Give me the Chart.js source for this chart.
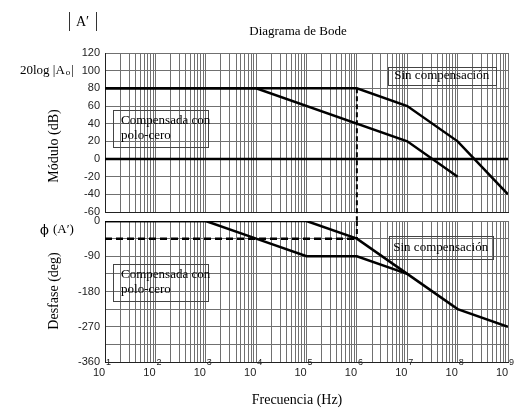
<!DOCTYPE html>
<html>
<head>
<meta charset="utf-8">
<script src="https://cdn.jsdelivr.net/npm/chart.js@4.4.1/dist/chart.umd.min.js"></script>
<style>
  html, body { margin: 0; padding: 0; background: #fff; }
  #wrap { position: relative; width: 516px; height: 412px; }
  canvas { position: absolute; left: 0; top: 0; }
</style>
</head>
<body>
<div id="wrap">
  <canvas id="magChart" width="516" height="412"></canvas>
  <canvas id="phaseChart" width="516" height="412"></canvas>
</div>
<script>
// ===== DATA =====
const decadeExps = [1, 2, 3, 4, 5, 6, 7, 8, 9];

// Modulo (dB)
const magFreqSin = [1e1, 1e6, 1e7, 1e8, 1e9];
const magSin = [80, 80, 60, 20, -40];
const magFreqComp = [1e1, 1e4, 1e7, 1e8];
const magComp = [80, 80, 20, -20];
const zeroFreq = [1e1, 1e9];
const zeroDb = [0, 0];
const cutFreq = [1e6, 1e6];
const cutMag = [80, -70];

// Desfase (deg)
const phaseFreqSin = [1e1, 1e5, 1e6, 1e7, 1e8, 1e9];
const phaseSin = [0, 0, -45, -135, -225, -270];
const phaseFreqComp = [1e1, 1e3, 1e4, 1e5, 1e6, 1e7];
const phaseComp = [0, 0, -45, -90, -90, -135];
const marginFreq = [1e1, 1e6];
const marginPhase = [-45, -45];
const cutPhase = [0, -45];

const magTicks = [-60, -40, -20, 0, 20, 40, 60, 80, 100, 120];
const phaseLabels = [0, -90, -180, -270, -360];

// ===== HELPERS =====
const serif = '"Liberation Serif", "Times New Roman", serif';
const sans = '"Liberation Sans", Arial, sans-serif';
const gridColor = '#707070';

function pts(xs, ys) {
    return xs.map((x, i) => ({ x: x, y: ys[i] }));
}

// grid lines at 1..9 x 10^n
const gridFreqs = [];
for (let e = 1; e < 9; e++) {
    for (let k = 1; k < 10; k++) gridFreqs.push(k * Math.pow(10, e));
}
gridFreqs.push(1e9);

function xAxis() {
    return {
        type: 'logarithmic',
        min: 10,
        max: 1e9,
        afterBuildTicks: s => { s.ticks = gridFreqs.map(v => ({ value: v })); },
        ticks: { display: false },
        grid: { color: gridColor, lineWidth: 1, drawTicks: false },
        border: { color: '#222', width: 1 },
        afterFit: s => { s.height = 0; }
    };
}

function line(data, opts) {
    return Object.assign({
        data: data,
        borderColor: '#000',
        borderWidth: 2.5,
        pointRadius: 0,
        tension: 0,
        fill: false
    }, opts || {});
}

// annotation boxes, placed in data coordinates
const boxPlugin = {
    id: 'boxes',
    afterDatasetsDraw(chart, args, opts) {
        const ctx = chart.ctx;
        const xs = chart.scales.x, ys = chart.scales.y;
        (opts.items || []).forEach(b => {
            const x1 = xs.getPixelForValue(Math.pow(10, b.x1));
            const x2 = xs.getPixelForValue(Math.pow(10, b.x2));
            const y1 = ys.getPixelForValue(b.y1);
            const y2 = ys.getPixelForValue(b.y2);
            ctx.save();
            ctx.strokeStyle = '#444';
            ctx.lineWidth = 1;
            ctx.strokeRect(Math.round(x1) + 0.5, Math.round(y1) + 0.5, Math.round(x2 - x1), Math.round(y2 - y1));
            ctx.fillStyle = '#000';
            ctx.font = '13px ' + serif;
            ctx.textBaseline = 'middle';
            const lh = 15;
            const top = (y1 + y2) / 2 - (b.lines.length - 1) * lh / 2;
            b.lines.forEach((t, i) => {
                if (b.center) {
                    ctx.textAlign = 'center';
                    ctx.fillText(t, (x1 + x2) / 2, top + i * lh);
                } else {
                    ctx.textAlign = 'left';
                    ctx.fillText(t, x1 + 8, top + i * lh);
                }
            });
            ctx.restore();
        });
    }
};

// outer texts: titles, axis names, decade labels
const textPlugin = {
    id: 'texts',
    afterDraw(chart) {
        const ctx = chart.ctx;
        const xs = chart.scales.x;
        ctx.save();
        ctx.textBaseline = 'middle';

        // decade labels 10^n
        decadeExps.forEach(e => {
            const px = xs.getPixelForValue(Math.pow(10, e));
            ctx.fillStyle = '#222';
            ctx.font = '11px ' + sans;
            ctx.textAlign = 'center';
            ctx.fillText('10', px - 6, 373);
            ctx.font = '9px ' + sans;
            ctx.textAlign = 'left';
            ctx.fillText(String(e), px + 1, 363);
        });
        ctx.fillStyle = '#000';

        ctx.textAlign = 'center';
        ctx.font = '13px ' + serif;
        ctx.fillText('Diagrama de Bode', 298, 32);
        ctx.font = '14px ' + serif;
        ctx.fillText('Frecuencia (Hz)', 297, 400);

        // |A'|
        ctx.lineWidth = 1;
        ctx.strokeStyle = '#333';
        ctx.beginPath();
        ctx.moveTo(69.5, 12); ctx.lineTo(69.5, 31);
        ctx.moveTo(96.5, 12); ctx.lineTo(96.5, 31);
        ctx.stroke();
        ctx.font = '14px ' + serif;
        ctx.textAlign = 'left';
        ctx.fillText('A\u2032', 76, 22);

        // 20log |Ao|
        ctx.font = '13px ' + serif;
        ctx.fillText('20log |A', 20, 71);
        const w = ctx.measureText('20log |A').width;
        ctx.font = '9px ' + serif;
        ctx.fillText('o', 20 + w + 1, 73);
        const w2 = ctx.measureText('o').width;
        ctx.font = '13px ' + serif;
        ctx.fillText('|', 20 + w + w2 + 2, 71);

        // phi (A')
        ctx.font = '13px "DejaVu Serif", ' + serif;
        ctx.fillText('\u03D5', 40, 231);
        ctx.font = '13px ' + serif;
        ctx.fillText('(A\u2032)', 53, 230);

        // rotated axis names
        ctx.font = '14px ' + serif;
        ctx.textAlign = 'center';
        ctx.save();
        ctx.translate(54, 146);
        ctx.rotate(-Math.PI / 2);
        ctx.fillText('M\u00F3dulo (dB)', 0, 0);
        ctx.restore();
        ctx.save();
        ctx.translate(54, 291);
        ctx.rotate(-Math.PI / 2);
        ctx.fillText('Desfase (deg)', 0, 0);
        ctx.restore();

        ctx.restore();
    }
};

// ===== MODULO CHART =====
new Chart(document.getElementById('magChart'), {
    type: 'line',
    data: {
        datasets: [
            line(pts(magFreqSin, magSin)),
            line(pts(magFreqComp, magComp)),
            line(pts(zeroFreq, zeroDb)),
            line(pts(cutFreq, cutMag), { borderDash: [5, 3], borderWidth: 2, clip: false })
        ]
    },
    options: {
        responsive: false,
        animation: false,
        layout: { padding: { top: 53, right: 8, bottom: 200, left: 0 } },
        plugins: {
            legend: { display: false },
            tooltip: { enabled: false },
            boxes: {
                items: [
                    { x1: 6.61, x2: 8.76, y1: 104, y2: 84, lines: ['Sin compensaci\u00F3n'], center: true },
                    { x1: 1.16, x2: 3.04, y1: 56, y2: 14, lines: ['Compensada con', 'polo-cero'] }
                ]
            }
        },
        scales: {
            x: xAxis(),
            y: {
                min: -60,
                max: 120,
                afterBuildTicks: s => { s.ticks = magTicks.map(v => ({ value: v })); },
                ticks: { font: { family: sans, size: 11 }, color: '#222', padding: 5 },
                grid: { color: gridColor, lineWidth: 1, drawTicks: false },
                border: { color: '#222', width: 1 },
                afterFit: s => { s.width = 105; }
            }
        }
    },
    plugins: [boxPlugin]
});

// ===== DESFASE CHART =====
new Chart(document.getElementById('phaseChart'), {
    type: 'line',
    data: {
        datasets: [
            line(pts(phaseFreqSin, phaseSin)),
            line(pts(phaseFreqComp, phaseComp)),
            line(pts(marginFreq, marginPhase), { borderDash: [7, 4] }),
            line(pts(cutFreq, cutPhase), { borderDash: [5, 3], borderWidth: 2 })
        ]
    },
    options: {
        responsive: false,
        animation: false,
        layout: { padding: { top: 221, right: 8, bottom: 50, left: 0 } },
        plugins: {
            legend: { display: false },
            tooltip: { enabled: false },
            boxes: {
                items: [
                    { x1: 6.63, x2: 8.70, y1: -38, y2: -97, lines: ['Sin compensaci\u00F3n'], center: true },
                    { x1: 1.16, x2: 3.04, y1: -110, y2: -204, lines: ['Compensada con', 'polo-cero'] }
                ]
            }
        },
        scales: {
            x: xAxis(),
            y: {
                min: -360,
                max: 0,
                ticks: {
                    stepSize: 45,
                    font: { family: sans, size: 11 },
                    color: '#222',
                    padding: 5,
                    callback: v => (phaseLabels.indexOf(v) >= 0 ? String(v) : '')
                },
                grid: { color: gridColor, lineWidth: 1, drawTicks: false },
                border: { color: '#222', width: 1 },
                afterFit: s => { s.width = 105; }
            }
        }
    },
    plugins: [boxPlugin, textPlugin]
});
</script>
</body>
</html>
